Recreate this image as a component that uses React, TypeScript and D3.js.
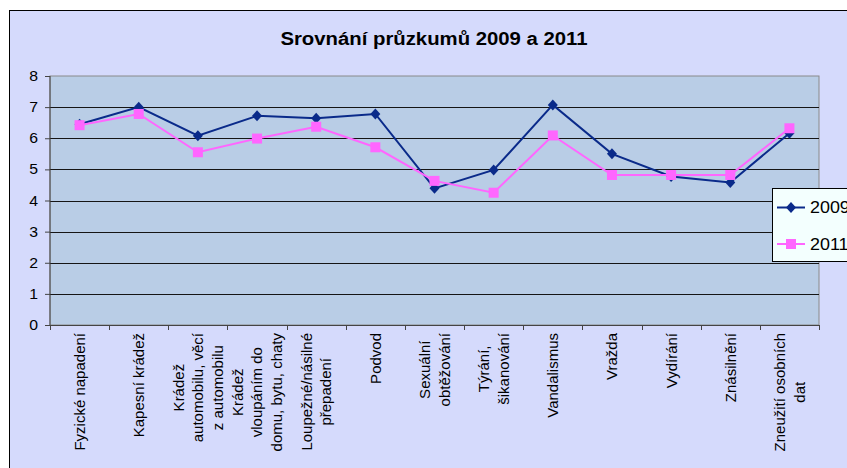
import React, { useEffect, useRef } from "react";
import * as d3 from "d3";

const categories: string[][] = [
  ["Fyzické napadení"],
  ["Kapesní krádež"],
  ["Krádež", "automobilu, věcí", "z automobilu"],
  ["Krádež", "vloupáním do", "domu, bytu, chaty"],
  ["Loupežné/násilné", "přepadení"],
  ["Podvod"],
  ["Sexuální", "obtěžování"],
  ["Týrání,", "šikanování"],
  ["Vandalismus"],
  ["Vražda"],
  ["Vydírání"],
  ["Znásilnění"],
  ["Zneužití osobních", "dat"],
];

const values2009 = [6.45, 7.0, 6.08, 6.72, 6.64, 6.78, 4.39, 4.98, 7.07, 5.5, 4.77, 4.58, 6.16];
const values2011 = [6.42, 6.78, 5.55, 5.99, 6.37, 5.71, 4.63, 4.25, 6.09, 4.82, 4.82, 4.82, 6.32];
const yTicks = [0, 1, 2, 3, 4, 5, 6, 7, 8];
const seriesNames = ["2009", "2011"];

const W = 847;
const H = 468;
const FONT = "'Liberation Sans', Arial, sans-serif";
const SX = 1.13; // text in the original is a bit wider than tall

const App: React.FC = () => {
  const svgRef = useRef<SVGSVGElement | null>(null);

  useEffect(() => {
    if (!svgRef.current) return;
    const svg = d3.select(svgRef.current);
    svg.selectAll("*").remove();

    const left = 50, right = 819, top = 76, bottom = 325;

    // outer chart area
    svg.append("rect").attr("width", W).attr("height", H).attr("fill", "#ffffff");
    svg
      .append("rect")
      .attr("x", 9.5)
      .attr("y", 10.5)
      .attr("width", 860)
      .attr("height", 480)
      .attr("fill", "#d5dafc")
      .attr("stroke", "#000")
      .attr("stroke-width", 1);

    svg
      .append("g")
      .attr("transform", `translate(434,45) scale(${SX},1)`)
      .append("text")
      .attr("text-anchor", "middle")
      .attr("font-family", FONT)
      .attr("font-weight", "bold")
      .attr("font-size", 18)
      .text("Srovnání průzkumů 2009 a 2011");

    const x = d3.scaleBand<number>().domain(d3.range(categories.length)).range([left, right]);
    const y = d3.scaleLinear().domain([0, 8]).range([bottom, top]);

    // plot area
    svg
      .append("rect")
      .attr("x", left)
      .attr("y", top)
      .attr("width", right - left)
      .attr("height", bottom - top)
      .attr("fill", "#b9cde6")
      .attr("stroke", "#8a8a8a")
      .attr("stroke-width", 1);

    // gridlines
    svg
      .append("g")
      .selectAll("line")
      .data(yTicks.filter((t) => t > 0 && t < 8))
      .join("line")
      .attr("x1", left)
      .attr("x2", right)
      .attr("y1", (d) => Math.round(y(d)) + 0.5)
      .attr("y2", (d) => Math.round(y(d)) + 0.5)
      .attr("stroke", "#151515")
      .attr("stroke-width", 1.2);

    // y axis
    const yAxis = d3
      .axisLeft(y)
      .tickValues(yTicks)
      .tickSize(5)
      .tickFormat(() => "");
    const yg = svg.append("g").attr("transform", `translate(${left},0)`).call(yAxis);
    yg.select(".domain").attr("stroke", "#444").attr("d", `M0,${top}V${bottom}`);
    yg.selectAll(".tick line").attr("stroke", "#444");
    yTicks.forEach((t) => {
      svg
        .append("g")
        .attr("transform", `translate(38,${y(t) + 5}) scale(${SX},1)`)
        .append("text")
        .attr("text-anchor", "end")
        .attr("font-family", FONT)
        .attr("font-size", 14)
        .text(String(t));
    });

    // x axis line and ticks
    const xg = svg.append("g");
    xg.append("line")
      .attr("x1", left)
      .attr("x2", right)
      .attr("y1", bottom + 0.5)
      .attr("y2", bottom + 0.5)
      .attr("stroke", "#444");
    const tickXs = d3.range(categories.length + 1).map((i) => left + i * x.step());
    xg.selectAll("line.tk")
      .data(tickXs)
      .join("line")
      .attr("class", "tk")
      .attr("x1", (d) => Math.round(d) + 0.5)
      .attr("x2", (d) => Math.round(d) + 0.5)
      .attr("y1", bottom)
      .attr("y2", bottom + 5)
      .attr("stroke", "#444");

    // category labels (rotated)
    const fs = 15;
    const lineH = 19.5;
    categories.forEach((lines, i) => {
      const cx = (x(i) as number) + x.bandwidth() / 2;
      const g = xg.append("g").attr("transform", `translate(${cx},${bottom + 8}) rotate(-90)`);
      const texts = lines.map((ln, j) =>
        g
          .append("text")
          .attr("font-family", FONT)
          .attr("font-size", fs)
          .attr("text-anchor", "middle")
          .attr("y", (j - (lines.length - 1) / 2) * lineH + 0.36 * fs)
          .text(ln)
      );
      const maxLen = d3.max(texts, (t) => (t.node() as SVGTextElement).getComputedTextLength()) || 0;
      texts.forEach((t) => t.attr("x", -maxLen / 2));
    });

    // series
    const line = d3
      .line<number>()
      .x((_, i) => (x(i) as number) + x.bandwidth() / 2)
      .y((d) => y(d));

    const colors = ["#0a2a8a", "#ff66ff"];
    const drawMarker = (g: any, s: number, cx: number, cy: number) => {
      if (s === 0) {
        g.append("path")
          .attr("d", `M${cx},${cy - 5.5}L${cx + 5},${cy}L${cx},${cy + 5.5}L${cx - 5},${cy}Z`)
          .attr("fill", colors[0]);
      } else {
        g.append("rect")
          .attr("x", cx - 5)
          .attr("y", cy - 5)
          .attr("width", 10)
          .attr("height", 10)
          .attr("fill", colors[1]);
      }
    };

    [values2009, values2011].forEach((vals, s) => {
      const g = svg.append("g");
      g.append("path")
        .datum(vals)
        .attr("d", line)
        .attr("fill", "none")
        .attr("stroke", colors[s])
        .attr("stroke-width", 2);
      vals.forEach((v, i) => drawMarker(g, s, (x(i) as number) + x.bandwidth() / 2, y(v)));
    });

    // legend
    const lg = svg.append("g");
    lg.append("rect")
      .attr("x", 772.5)
      .attr("y", 188.5)
      .attr("width", 100)
      .attr("height", 73)
      .attr("fill", "#f3fffe")
      .attr("stroke", "#000");
    seriesNames.forEach((name, s) => {
      const ly = 207.5 + s * 36.5;
      lg.append("line")
        .attr("x1", 777)
        .attr("x2", 805)
        .attr("y1", ly)
        .attr("y2", ly)
        .attr("stroke", colors[s])
        .attr("stroke-width", 2);
      drawMarker(lg, s, 791, ly);
      lg.append("g")
        .attr("transform", `translate(810,${ly + 5.8}) scale(1.12,1)`)
        .append("text")
        .attr("font-family", FONT)
        .attr("font-size", 16)
        .text(name);
    });
  }, []);

  return (
    <svg
      ref={svgRef}
      width={W}
      height={H}
      style={{ position: "absolute", left: 0, top: 0, display: "block" }}
    />
  );
};

export default App;
